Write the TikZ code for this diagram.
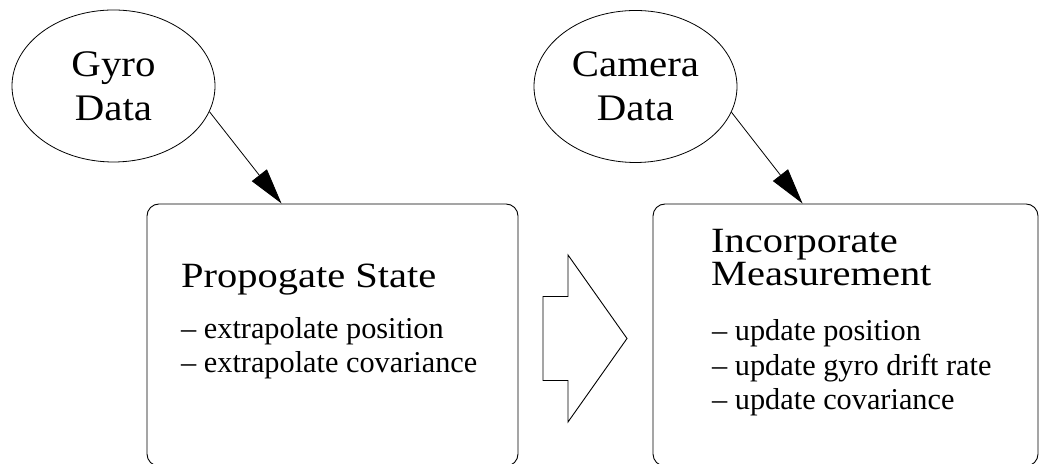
\documentclass[tikz,border=0pt]{standalone}
\usepackage{fontspec}
\setmainfont{Liberation Serif}
\newfontfamily\headfont[FakeStretch=1.14]{Liberation Serif}
\newfontfamily\srcfont[FakeStretch=1.09]{Liberation Serif}
\usetikzlibrary{arrows.meta,calc,shapes.geometric}
\begin{document}
\begin{tikzpicture}[x=1bp,y=1bp,
  src/.style={ellipse,draw,line width=0.8bp,inner sep=0pt,minimum width=203bp,minimum height=152bp,align=center,font=\srcfont\fontsize{37.5bp}{44bp}\selectfont},
  stagebox/.style={draw,line width=0.9bp,rounded corners=12bp,minimum width=#1,minimum height=262bp,inner sep=0pt},
  headtxt/.style={anchor=base west,inner sep=0pt,font=\headfont\fontsize{35.5bp}{40bp}\selectfont},
  itemtxt/.style={anchor=base west,inner sep=0pt,font=\fontsize{30.3bp}{34bp}\selectfont},
  feed/.style={line width=0.8bp,-{Triangle[length=36bp,width=19bp]}},
  bigarrow/.style={draw,line width=0.9bp,fill=white}]
\useasboundingbox (0,0) rectangle (1045,464);
\node[src] (gyro) at (113.5,378) {Gyro\\Data};
\node[src] (cam) at (635.5,377.5) {Camera\\Data};
\node[stagebox=371bp] (prop) at (332.5,129) {};
\node[stagebox=385bp] (meas) at (845.5,129) {};
\node[headtxt] (proph) at (181,176) {Propogate State};
\node[itemtxt] (propa) at (181,125) {– extrapolate position};
\node[itemtxt] (propb) at (181,91) {– extrapolate covariance};
\node[headtxt] (meash1) at (711,211) {Incorporate};
\node[headtxt] (meash2) at (711,178) {Measurement};
\node[itemtxt] (measa) at (712,123) {– update position};
\node[itemtxt] (measb) at (712,88.3) {– update gyro drift rate};
\node[itemtxt] (measc) at (712,54) {– update covariance};
\coordinate (gtip) at ($(prop.north west)+(135,0)$);
\draw[feed] (gyro.-15.4) -- (gtip);
\coordinate (ctip) at ($(meas.north west)+(150,0)$);
\draw[feed] (cam.-15.4) -- (ctip);
\draw[bigarrow] (543,167.5) -- (568,167.5) -- (568,209) -- (627,125.5) -- (568,42) -- (568,83.5) -- (543,83.5) -- cycle;
\end{tikzpicture}
\end{document}
